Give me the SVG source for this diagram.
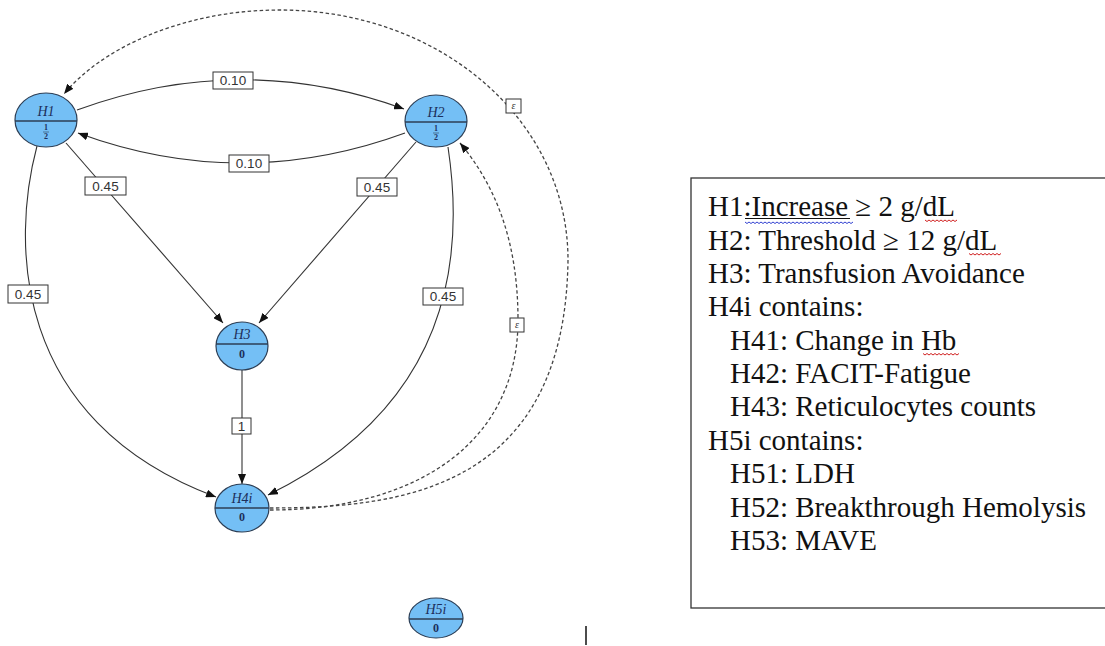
<svg xmlns="http://www.w3.org/2000/svg" width="1105" height="646" viewBox="0 0 1105 646">
<style>
.node ellipse{fill:#74bff5;stroke:#2c3e55;stroke-width:1.2}
.node line{stroke:#2c3e55;stroke-width:1.4}
.nl{font-family:"Liberation Serif",serif;font-style:italic;font-size:14px;fill:#1d2f5c;text-anchor:middle}
.nv{font-family:"Liberation Serif",serif;font-size:12px;font-weight:bold;fill:#1d2f5c;text-anchor:middle}
.fr{font-family:"Liberation Serif",serif;font-size:8px;font-weight:bold;fill:#1d2f5c;text-anchor:middle}
.e{fill:none;stroke:#333;stroke-width:1.1}
.d{fill:none;stroke:#444;stroke-width:1.3;stroke-dasharray:3.5,2.5}
.lb rect{fill:#fff;stroke:#333;stroke-width:1}
.lt{font-family:"Liberation Sans",Arial,sans-serif;font-size:13.5px;fill:#333;text-anchor:middle}
.eps{font-family:"Liberation Serif",serif;font-style:italic;font-size:10px;fill:#333;text-anchor:middle}
.leg{font-family:"Liberation Serif","Times New Roman",serif;font-size:29px;fill:#111}
.wr{fill:none;stroke:#d02020;stroke-width:1}
.wb{fill:none;stroke:#3040d0;stroke-width:1}
</style>
<defs>
<marker id="ah" markerUnits="userSpaceOnUse" markerWidth="11" markerHeight="8" refX="10" refY="4" orient="auto">
<path d="M0,0 L10,4 L0,8 z" fill="#111"/>
</marker>
</defs>
<rect width="1105" height="646" fill="#fff"/>
<g id="connectors">
<path class="e" d="M77,110 Q241,50 404,109" marker-end="url(#ah)"/>
<path class="e" d="M405,133 Q241,193 78,133" marker-end="url(#ah)"/>
<path class="e" d="M66,143 L223,323" marker-end="url(#ah)"/>
<path class="e" d="M416,142 L259,323" marker-end="url(#ah)"/>
<path class="e" d="M37,146 C12,240 10,420 216,497" marker-end="url(#ah)"/>
<path class="e" d="M448,147 C462,240 462,400 268,495" marker-end="url(#ah)"/>
<path class="e" d="M242,370 L242,484" marker-end="url(#ah)"/>
<path class="d" d="M270,508 C400,508 565,490 568,260 C568,120 440,10 280,10 C180,10 100,50 64,94" marker-end="url(#ah)"/>
<path class="d" d="M270,510 C420,510 518,440 518,320 C518,240 495,185 460,143" marker-end="url(#ah)"/>
<g class="lb">
<rect x="213" y="72" width="40" height="17"/><text class="lt" x="233" y="85">0.10</text>
<rect x="229" y="155" width="40" height="17"/><text class="lt" x="249" y="168">0.10</text>
<rect x="85" y="177" width="41" height="18"/><text class="lt" x="105.5" y="191">0.45</text>
<rect x="357" y="178" width="40" height="18"/><text class="lt" x="377" y="192">0.45</text>
<rect x="8" y="285" width="40" height="18"/><text class="lt" x="28" y="299">0.45</text>
<rect x="423" y="288" width="40" height="17"/><text class="lt" x="443" y="301">0.45</text>
<rect x="232" y="418" width="19" height="16"/><text class="lt" x="241.5" y="431">1</text>
<rect x="506" y="99" width="15" height="14"/><text class="eps" x="513.5" y="109">ε</text>
<rect x="510" y="318" width="14" height="14"/><text class="eps" x="517" y="328">ε</text>
</g>
</g>
<g id="H1" class="node">
<ellipse cx="46" cy="120" rx="31" ry="27"/>
<line x1="15" y1="121" x2="77" y2="121"/>
<text class="nl" x="46" y="116">H1</text>
<text class="fr" x="46" y="130">1</text><line x1="43" y1="132" x2="49" y2="132" style="stroke-width:0.6"/><text class="fr" x="46" y="139">2</text>
</g>
<g id="H2" class="node">
<ellipse cx="436" cy="121" rx="31" ry="26"/>
<line x1="405" y1="122" x2="467" y2="122"/>
<text class="nl" x="436" y="117">H2</text>
<text class="fr" x="436" y="131">1</text><line x1="433" y1="133" x2="439" y2="133" style="stroke-width:0.6"/><text class="fr" x="436" y="140">2</text>
</g>
<g id="H3" class="node">
<ellipse cx="242" cy="346" rx="26" ry="24"/>
<line x1="216" y1="344" x2="268" y2="344"/>
<text class="nl" x="242" y="339">H3</text>
<text class="nv" x="242" y="358">0</text>
</g>
<g id="H4i" class="node">
<ellipse cx="242" cy="508" rx="27" ry="24"/>
<line x1="215" y1="508" x2="269" y2="508"/>
<text class="nl" x="242" y="503">H4i</text>
<text class="nv" x="242" y="521">0</text>
</g>
<g id="H5i" class="node">
<ellipse cx="436" cy="618" rx="27" ry="20"/>
<line x1="409" y1="619" x2="463" y2="619"/>
<text class="nl" x="436" y="614">H5i</text>
<text class="nv" x="436" y="632">0</text>
</g>
<line x1="586" y1="626" x2="586" y2="645" stroke="#111" stroke-width="1.5"/>
<g id="legend">
<rect x="691" y="178" width="420" height="430" fill="#fff" stroke="#333" stroke-width="1.3"/>
<text class="leg" x="708" y="216">H1:Increase ≥ 2 g/dL</text>
<text class="leg" x="708" y="249.5">H2: Threshold ≥ 12 g/dL</text>
<text class="leg" x="708" y="283">H3: Transfusion Avoidance</text>
<text class="leg" x="708" y="316">H4i contains:</text>
<text class="leg" x="730" y="349.5">H41: Change in Hb</text>
<text class="leg" x="730" y="383">H42: FACIT-Fatigue</text>
<text class="leg" x="730" y="416">H43: Reticulocytes counts</text>
<text class="leg" x="708" y="449.5">H5i contains:</text>
<text class="leg" x="730" y="483">H51: LDH</text>
<text class="leg" x="730" y="516.5">H52: Breakthrough Hemolysis</text>
<text class="leg" x="730" y="550">H53: MAVE</text>
<line x1="745" y1="218.5" x2="850" y2="218.5" stroke="#111" stroke-width="1"/>
<path class="wb" d="M745,222 l2,1.5 l2,-1.5 l2,1.5 l2,-1.5 l2,1.5 l2,-1.5 l2,1.5 l2,-1.5 l2,1.5 l2,-1.5 l2,1.5 l2,-1.5 l2,1.5 l2,-1.5 l2,1.5 l2,-1.5 l2,1.5 l2,-1.5 l2,1.5 l2,-1.5 l2,1.5 l2,-1.5 l2,1.5 l2,-1.5 l2,1.5 l2,-1.5 l2,1.5 l2,-1.5 l2,1.5 l2,-1.5 l2,1.5 l2,-1.5 l2,1.5 l2,-1.5 l2,1.5 l2,-1.5 l2,1.5 l2,-1.5 l2,1.5 l2,-1.5 l2,1.5 l2,-1.5 l2,1.5 l2,-1.5 l2,1.5 l2,-1.5 l2,1.5 l2,-1.5 l2,1.5 l2,-1.5 l2,1.5 l2,-1.5 l2,1.5 l2,-1.5"/>
<path class="wr" d="M925,220 l2,1.5 l2,-1.5 l2,1.5 l2,-1.5 l2,1.5 l2,-1.5 l2,1.5 l2,-1.5 l2,1.5 l2,-1.5 l2,1.5 l2,-1.5 l2,1.5 l2,-1.5 l2,1.5 l2,-1.5"/>
<path class="wr" d="M969,253.5 l2,1.5 l2,-1.5 l2,1.5 l2,-1.5 l2,1.5 l2,-1.5 l2,1.5 l2,-1.5 l2,1.5 l2,-1.5 l2,1.5 l2,-1.5 l2,1.5 l2,-1.5 l2,1.5 l2,-1.5"/>
<path class="wr" d="M923,353.5 l2,1.5 l2,-1.5 l2,1.5 l2,-1.5 l2,1.5 l2,-1.5 l2,1.5 l2,-1.5 l2,1.5 l2,-1.5 l2,1.5 l2,-1.5 l2,1.5 l2,-1.5 l2,1.5 l2,-1.5 l2,1.5 l2,-1.5"/>
</g>
</svg>
